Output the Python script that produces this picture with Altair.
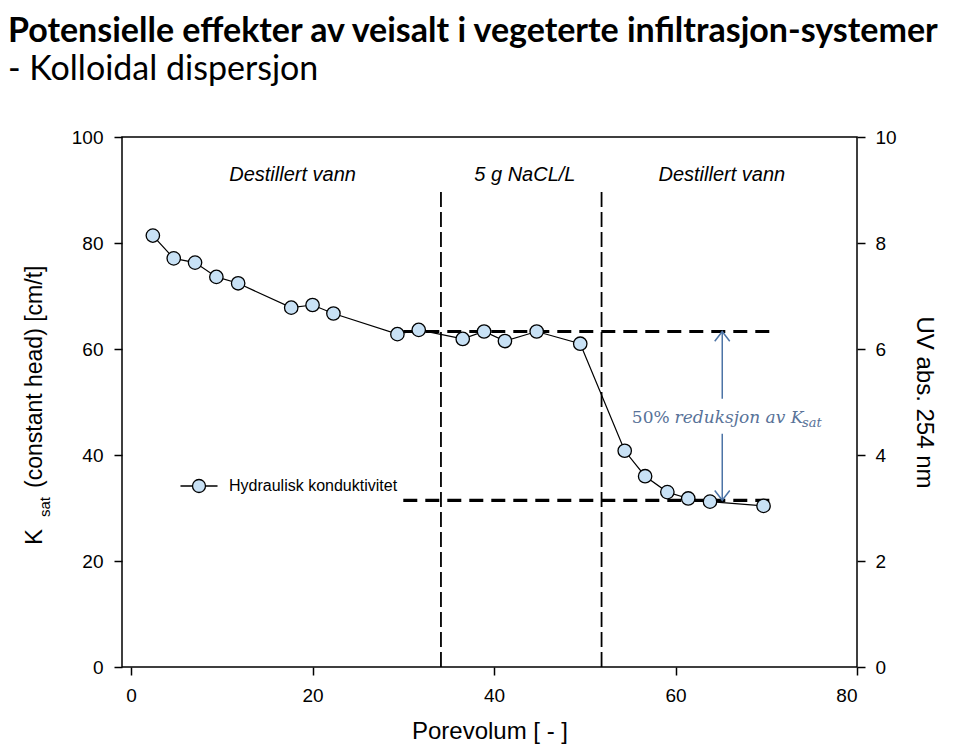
import altair as alt
import pandas as pd

# ---------------- data ----------------
pore_volume = [2.4, 4.7, 7.05, 9.4, 11.8, 17.65, 20.0, 22.3, 29.35, 31.7, 36.55,
               38.9, 41.2, 44.7, 49.5, 54.4, 56.65, 59.1, 61.4, 63.8, 69.7]
k_sat = [81.4, 77.1, 76.3, 73.6, 72.4, 67.8, 68.3, 66.7, 62.8, 63.6, 61.9,
         63.3, 61.5, 63.3, 61.0, 40.8, 36.0, 33.0, 31.8, 31.2, 30.4]
series_name = "Hydraulisk konduktivitet"

phase_bounds = [34.15, 51.85]
phase_top = 90.3
phase_labels = ["Destillert vann", "5 g NaCL/L", "Destillert vann"]
phase_label_x = [17.8, 43.4, 65.1]
phase_label_y = 92.8

ksat_levels = [63.3, 31.45]
level_start = 30.0
level_end = 70.7

arrow_x = 65.15
arrow_segments_from = [63.3, 44.0]
arrow_segments_to = [50.6, 31.45]

reduction_pct = "50%"
reduction_text = "reduksjon av K"
reduction_sub = "sat"
reduction_pct_x = 59.35
reduction_text_x = 59.9
reduction_sub_x = 73.95
reduction_y = 46.1
reduction_sub_y = 45.3

x_ticks = [0, 20, 40, 60, 80]
y_ticks = [0, 20, 40, 60, 80, 100]

title_main = "Potensielle effekter av veisalt i vegeterte infiltrasjon-systemer"
title_sub = "- Kolloidal dispersjon"
x_title = "Porevolum [ - ]"
uv_title = "UV abs. 254 nm"
ytitle_parts = ["K", "sat", "(constant head) [cm/t]"]

# ---------------- tables ----------------
df = pd.DataFrame({"pv": pore_volume, "k": k_sat, "series": series_name})
vlines = pd.DataFrame({"x": phase_bounds, "y0": [0, 0], "y1": [phase_top] * 2})
hlines = pd.DataFrame({"y": ksat_levels, "x0": [level_start] * 2, "x1": [level_end] * 2})
arrows = pd.DataFrame({"x": [arrow_x] * 2, "y0": arrow_segments_from, "y1": arrow_segments_to})
heads = pd.DataFrame({"x": [arrow_x] * 2, "y": [ksat_levels[0], ksat_levels[1]],
                      "dir": ["up", "down"]})
phase_df = pd.DataFrame({"x": phase_label_x, "y": [phase_label_y] * 3, "t": phase_labels})

xscale = alt.Scale(domain=[-1, 80], nice=False, zero=False)
yscale = alt.Scale(domain=[0, 100], nice=False)

AX_FONT = "Liberation Sans"
ANN_COLOR = "#587298"
ARROW_COLOR = "#4d74a6"

X = alt.X("pv:Q", scale=xscale,
          axis=alt.Axis(values=x_ticks, title=x_title, format="d", labelPadding=11,
                        titlePadding=14))

vrules = alt.Chart(vlines).mark_rule(color="black", strokeWidth=1.8, strokeDash=[15, 5]).encode(
    x=alt.X("x:Q", scale=xscale),
    y=alt.Y("y0:Q", scale=yscale, axis=None),
    y2="y1:Q",
)

line = alt.Chart(df).mark_line(color="black", strokeWidth=1.2).encode(
    x=X,
    y=alt.Y("k:Q", scale=yscale,
            axis=alt.Axis(orient="right", values=y_ticks, labelExpr="datum.value / 10",
                          title=uv_title, titleFontSize=24, labelPadding=10, titlePadding=15)),
)

hrules = alt.Chart(hlines).mark_rule(color="black", strokeWidth=3.2, strokeDash=[14, 8]).encode(
    x=alt.X("x0:Q", scale=xscale),
    x2="x1:Q",
    y=alt.Y("y:Q", scale=yscale, axis=None),
)

legend_path = "M-2.85,0L-1,0M1,0L2.85,0M-1,0A1,1,0,1,1,1,0A1,1,0,1,1,-1,0Z"
points = alt.Chart(df).mark_point(filled=True, size=180, stroke="black", strokeWidth=1.3,
                                  opacity=1).encode(
    x=X,
    y=alt.Y("k:Q", scale=yscale,
            axis=alt.Axis(orient="left", values=y_ticks, title=None, labelPadding=11)),
    fill=alt.Fill("series:N", scale=alt.Scale(range=["#c8e1f5"]),
                  legend=alt.Legend(orient="none", legendX=69, legendY=341, title=None,
                                    symbolType=legend_path, symbolSize=169,
                                    symbolStrokeColor="black", symbolStrokeWidth=1.3,
                                    labelOffset=22, labelFont=AX_FONT, labelFontSize=16,
                                    labelLimit=400, padding=0)),
)

arrow_lines = alt.Chart(arrows).mark_rule(color=ARROW_COLOR, strokeWidth=1.5).encode(
    x=alt.X("x:Q", scale=xscale),
    y=alt.Y("y0:Q", scale=yscale, axis=None),
    y2="y1:Q",
)

head_up = alt.Chart(heads[heads.dir == "up"]).mark_point(
    shape="M-1,1.3L0,0L1,1.3", size=225, filled=False, color=ARROW_COLOR, strokeWidth=1.5,
    opacity=1).encode(x=alt.X("x:Q", scale=xscale), y=alt.Y("y:Q", scale=yscale, axis=None))
head_down = alt.Chart(heads[heads.dir == "down"]).mark_point(
    shape="M-1,-1.3L0,0L1,-1.3", size=225, filled=False, color=ARROW_COLOR, strokeWidth=1.5,
    opacity=1).encode(x=alt.X("x:Q", scale=xscale), y=alt.Y("y:Q", scale=yscale, axis=None))

phase_text = alt.Chart(phase_df).mark_text(font=AX_FONT, fontSize=20, fontStyle="italic",
                                           color="black", baseline="middle").encode(
    x=alt.X("x:Q", scale=xscale), y=alt.Y("y:Q", scale=yscale, axis=None), text="t:N")

red_df = pd.DataFrame({"x": [reduction_pct_x, reduction_text_x, reduction_sub_x],
                       "y": [reduction_y, reduction_y, reduction_sub_y],
                       "t": [reduction_pct, reduction_text, reduction_sub]})
red_pct = alt.Chart(red_df.iloc[[0]]).mark_text(font="DejaVu Serif", fontSize=17, align="right",
                                                baseline="alphabetic", color=ANN_COLOR).encode(
    x=alt.X("x:Q", scale=xscale), y=alt.Y("y:Q", scale=yscale, axis=None), text="t:N")
red_txt = alt.Chart(red_df.iloc[[1]]).mark_text(font="DejaVu Serif", fontSize=17, align="left",
                                                fontStyle="italic", baseline="alphabetic",
                                                color=ANN_COLOR).encode(
    x=alt.X("x:Q", scale=xscale), y=alt.Y("y:Q", scale=yscale, axis=None), text="t:N")
red_sub = alt.Chart(red_df.iloc[[2]]).mark_text(font="DejaVu Serif", fontSize=13, align="left",
                                                fontStyle="italic", baseline="alphabetic",
                                                color=ANN_COLOR).encode(
    x=alt.X("x:Q", scale=xscale), y=alt.Y("y:Q", scale=yscale, axis=None), text="t:N")

yt_df = pd.DataFrame({"t": ytitle_parts})
yt_k = alt.Chart(yt_df.iloc[[0]]).mark_text(font=AX_FONT, fontSize=24, angle=270, align="left",
                                            baseline="alphabetic", color="black").encode(
    text="t:N", x=alt.value(-80), y=alt.value(408))
yt_sub = alt.Chart(yt_df.iloc[[1]]).mark_text(font=AX_FONT, fontSize=15, angle=270, align="left",
                                              baseline="alphabetic", color="black").encode(
    text="t:N", x=alt.value(-72), y=alt.value(380))
yt_main = alt.Chart(yt_df.iloc[[2]]).mark_text(font=AX_FONT, fontSize=23, angle=270, align="left",
                                               baseline="alphabetic", color="black").encode(
    text="t:N", x=alt.value(-80), y=alt.value(351))

chart = alt.layer(
    vrules, line, hrules, points, arrow_lines, head_up, head_down,
    phase_text, red_pct, red_txt, red_sub, yt_k, yt_sub, yt_main,
).resolve_axis(y="independent").properties(
    width=735, height=530,
    autosize=alt.AutoSizeParams(type="none"),
    padding={"left": 114, "top": 129, "right": 95, "bottom": 79},
    title=alt.TitleParams(
        text=title_main, subtitle=title_sub, anchor="start", frame="group", dx=-114,
        font="Lato", fontSize=34, fontWeight="bold", color="black",
        subtitleFont="Lato", subtitleFontSize=34, subtitleColor="black",
        subtitlePadding=4, offset=41,
    ),
).configure_view(stroke="black", strokeWidth=1.5).configure_axis(
    labelFont=AX_FONT, labelFontSize=19, labelColor="black",
    titleFont=AX_FONT, titleFontSize=24, titleFontWeight="normal", titleColor="black",
    tickSize=8, tickColor="black", tickWidth=1.5, domain=False, grid=False,
)

chart.save("out.html", embed_options={"renderer": "svg", "actions": False})
